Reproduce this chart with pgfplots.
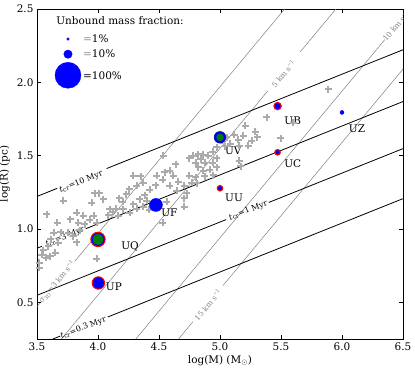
\documentclass[border=0pt]{standalone}
\usepackage{fontspec}
\setmainfont{DejaVu Serif}
\usepackage{pgfplots}
\pgfplotsset{compat=1.18}
\definecolor{mplgreen}{rgb}{0,0.5,0}

\begin{document}
\begin{tikzpicture}[x=1bp,y=1bp]
\useasboundingbox (-37,-34) rectangle (378,339);
\begin{axis}[
    at={(0,0)}, anchor=south west,
    width=366bp, height=330bp, scale only axis,
    xmin=3.5, xmax=6.5, ymin=0.25, ymax=2.5,
    xtick={3.5,4.0,4.5,5.0,5.5,6.0,6.5},
    ytick={0.5,1.0,1.5,2.0,2.5},
    /pgf/number format/fixed,
    /pgf/number format/fixed zerofill,
    /pgf/number format/precision=1,
    /pgf/number format/assume math mode=true,
    tick label style={font=\fontsize{10.5}{12}\selectfont},
    label style={font=\fontsize{10.5}{12}\selectfont},
    xlabel={log(M) (M$_\odot$)},
    ylabel={log(R) (pc)},
    xlabel style={yshift=2bp},
    axis line style={line width=0.8bp},
    major tick length=4bp,
    tick style={black, line width=0.6bp},
]

% velocity dispersion lines
\addplot[black!50, line width=0.5bp, unbounded coords=jump] coordinates {
    (3.5,0.47) (3.525,0.495) (nan,nan) (3.81,0.78) (5.53,2.5)};
\addplot[black!50, line width=0.5bp, unbounded coords=jump] coordinates {
    (3.70,0.25) (5.393,1.943) (nan,nan) (5.656,2.206) (5.95,2.5)};
\addplot[black!50, line width=0.5bp] coordinates {(4.31,0.25) (6.352,2.292)};
\addplot[black!50, line width=0.5bp, unbounded coords=jump] coordinates {
    (4.66,0.25) (4.779,0.369) (nan,nan) (5.025,0.615) (6.5,2.09)};

% crossing time lines
\addplot[black, line width=0.8bp, unbounded coords=jump] coordinates {
    (3.5,1.222) (3.665,1.277) (nan,nan) (4.07,1.412) (6.5,2.222)};
\addplot[black, line width=0.8bp, unbounded coords=jump] coordinates {
    (3.5,0.869) (3.54,0.882) (nan,nan) (3.90,1.002) (6.5,1.869)};
\addplot[black, line width=0.8bp, unbounded coords=jump] coordinates {
    (3.5,0.548) (5.05,1.064) (nan,nan) (5.40,1.181) (6.5,1.548)};
\addplot[black, line width=0.8bp, unbounded coords=jump] coordinates {
    (3.63,0.25) (3.69,0.27) (nan,nan) (4.08,0.40) (6.5,1.207)};

% line labels
\node[rotate=21.7, font=\fontsize{8}{9}\selectfont] at (axis cs:3.861,1.32) {\textit{t}\textsubscript{cr}=10 Myr};
\node[rotate=21.7, font=\fontsize{8}{9}\selectfont] at (axis cs:3.73,0.945) {\textit{t}\textsubscript{cr}=3 Myr};
\node[rotate=21.7, font=\fontsize{8}{9}\selectfont] at (axis cs:5.232,1.125) {\textit{t}\textsubscript{cr}=1 Myr};
\node[rotate=21.7, font=\fontsize{8}{9}\selectfont] at (axis cs:3.88,0.325) {\textit{t}\textsubscript{cr}=0.3 Myr};
\node[rotate=50, black!50, font=\fontsize{7.5}{8}\selectfont] at (axis cs:3.664,0.64) {\textit{σ}\textsubscript{3D}=3 km s\textsuperscript{−1}};
\node[rotate=50, black!50, font=\fontsize{7.5}{8}\selectfont] at (axis cs:5.52,2.06) {5 km s\textsuperscript{−1}};
\node[rotate=50, black!50, font=\fontsize{7.5}{8}\selectfont] at (axis cs:6.443,2.39) {10 km s\textsuperscript{−1}};
\node[rotate=50, black!50, font=\fontsize{7.5}{8}\selectfont] at (axis cs:4.90,0.485) {15 km s\textsuperscript{−1}};

% comparison clusters
\addplot[only marks, mark=+, mark size=3.5bp, black!33, line width=2bp] coordinates {
    (5.888,1.952) (5.383,1.763) (5.601,1.724) (5.497,1.619) (5.205,1.705)
    (5.287,1.664) (5.306,1.626) (5.260,1.603) (5.191,1.637) (5.150,1.610)
    (5.115,1.642) (5.082,1.580) (5.158,1.568) (5.041,1.564) (5.232,1.568)
    (5.158,1.466) (5.169,1.427) (4.973,1.557) (4.940,1.527) (4.904,1.500)
    (4.863,1.505) (4.822,1.511) (4.781,1.500) (4.749,1.482) (4.842,1.477)
    (4.803,1.450) (4.877,1.450) (4.940,1.450) (4.973,1.420) (4.918,1.404)
    (4.863,1.397) (4.822,1.420) (4.945,1.368) (4.877,1.358) (4.803,1.352)
    (4.749,1.363) (4.768,1.317) (4.639,1.443) (4.536,1.500) (4.590,1.397)
    (4.549,1.386) (4.618,1.363) (4.658,1.322) (4.705,1.295) (4.530,1.336)
    (4.475,1.299) (4.426,1.267) (4.385,1.231) (4.372,1.317) (4.317,1.295)
    (4.350,1.358) (4.290,1.363) (4.257,1.272) (4.230,1.237) (4.202,1.185)
    (4.175,1.208) (4.148,1.139) (4.120,1.116) (4.085,1.094) (4.044,1.203)
    (4.011,1.244) (3.975,1.244) (3.948,1.180) (3.967,1.089) (3.989,1.043)
    (3.934,1.062) (3.893,1.032) (3.825,1.112) (3.839,1.043) (3.852,0.993)
    (3.825,0.911) (3.716,1.192) (3.579,1.100) (3.639,0.975) (3.612,0.929)
    (3.593,0.884) (3.552,0.856) (3.538,0.826) (3.574,0.804) (3.519,0.769)
    (3.519,0.735) (3.667,1.043) (3.694,0.979) (3.757,0.975) (3.798,0.952)
    (4.262,1.112) (4.317,1.139) (4.290,1.169) (4.372,1.153) (4.421,1.130)
    (4.563,1.185) (4.530,1.043) (4.705,1.153) (4.705,1.208) (4.727,1.244)
    (4.809,1.313) (3.989,0.797) (4.098,1.135) (4.167,1.089) (4.208,1.135)
    (4.399,1.192) (4.344,1.203) (4.481,1.363) (4.645,1.260) (4.590,1.295)
    (5.014,1.603) (4.973,1.482) (5.055,1.626) (3.771,1.066) (3.880,1.089)
    (3.675,0.906) (3.648,0.838) (3.607,0.815)
};

% our clusters
\addplot[only marks, mark=*, mark size=6.2bp, mark options={fill=blue, draw=red, line width=1bp}] coordinates {(4.003,0.632)}; % UP
\addplot[only marks, mark=*, mark size=7.2bp, mark options={fill=blue, draw=red, line width=1bp}] coordinates {(4.0,0.929)}; % UQ
\addplot[only marks, mark=*, mark size=5.2bp, mark options={fill=mplgreen, draw=mplgreen, line width=0.5bp}] coordinates {(4.0,0.929)};
\addplot[only marks, mark=*, mark size=6.5bp, mark options={fill=blue, draw=blue, line width=0.5bp}] coordinates {(4.475,1.164)}; % UF
\addplot[only marks, mark=*, mark size=5.8bp, mark options={fill=blue, draw=blue!70!black, line width=0.6bp}] coordinates {(5.0,1.625)}; % UV
\addplot[only marks, mark=*, mark size=3.4bp, mark options={fill=mplgreen, draw=mplgreen, line width=0.5bp}] coordinates {(5.0,1.625)};
\addplot[only marks, mark=*, mark size=2.8bp, mark options={fill=blue, draw=red, line width=1bp}] coordinates {(5.0,1.278)}; % UU
\addplot[only marks, mark=*, mark size=2.8bp, mark options={fill=blue, draw=red, line width=1bp}] coordinates {(5.472,1.523)}; % UC
\addplot[only marks, mark=*, mark size=3.7bp, mark options={fill=blue, draw=red, line width=1bp}] coordinates {(5.472,1.838)}; % UB
\addplot[only marks, mark=*, mark size=2bp, mark options={fill=blue, draw=blue}] coordinates {(6.0,1.795)}; % UZ

% cluster names
\node[font=\fontsize{10.5}{12}\selectfont] at (axis cs:4.13,0.609) {UP};
\node[font=\fontsize{10.5}{12}\selectfont] at (axis cs:4.262,0.8835) {UQ};
\node[font=\fontsize{10.5}{12}\selectfont] at (axis cs:4.585,1.112) {UF};
\node[font=\fontsize{10.5}{12}\selectfont] at (axis cs:5.109,1.534) {UV};
\node[font=\fontsize{10.5}{12}\selectfont] at (axis cs:5.115,1.2146) {UU};
\node[font=\fontsize{10.5}{12}\selectfont] at (axis cs:5.596,1.443) {UC};
\node[font=\fontsize{10.5}{12}\selectfont] at (axis cs:5.596,1.735) {UB};
\node[font=\fontsize{10.5}{12}\selectfont] at (axis cs:6.123,1.685) {UZ};

% size key
\node[font=\fontsize{10.5}{12}\selectfont] at (axis cs:4.18,2.418) {Unbound mass fraction:};
\addplot[only marks, mark=*, mark size=1.3bp, mark options={fill=blue, draw=blue}] coordinates {(3.754,2.295)};
\addplot[only marks, mark=*, mark size=4.2bp, mark options={fill=blue, draw=blue}] coordinates {(3.754,2.192)};
\addplot[only marks, mark=*, mark size=13bp, mark options={fill=blue, draw=blue}] coordinates {(3.754,2.048)};
\node[anchor=west, inner sep=0pt, font=\fontsize{10.5}{12}\selectfont] at (axis cs:3.877,2.295) {\textcolor{black!45}{=}1\%};
\node[anchor=west, inner sep=0pt, font=\fontsize{10.5}{12}\selectfont] at (axis cs:3.877,2.192) {\textcolor{black!45}{=}10\%};
\node[anchor=west, inner sep=0pt, font=\fontsize{10.5}{12}\selectfont] at (axis cs:3.877,2.048) {=100\%};
\end{axis}
\end{tikzpicture}
\end{document}
